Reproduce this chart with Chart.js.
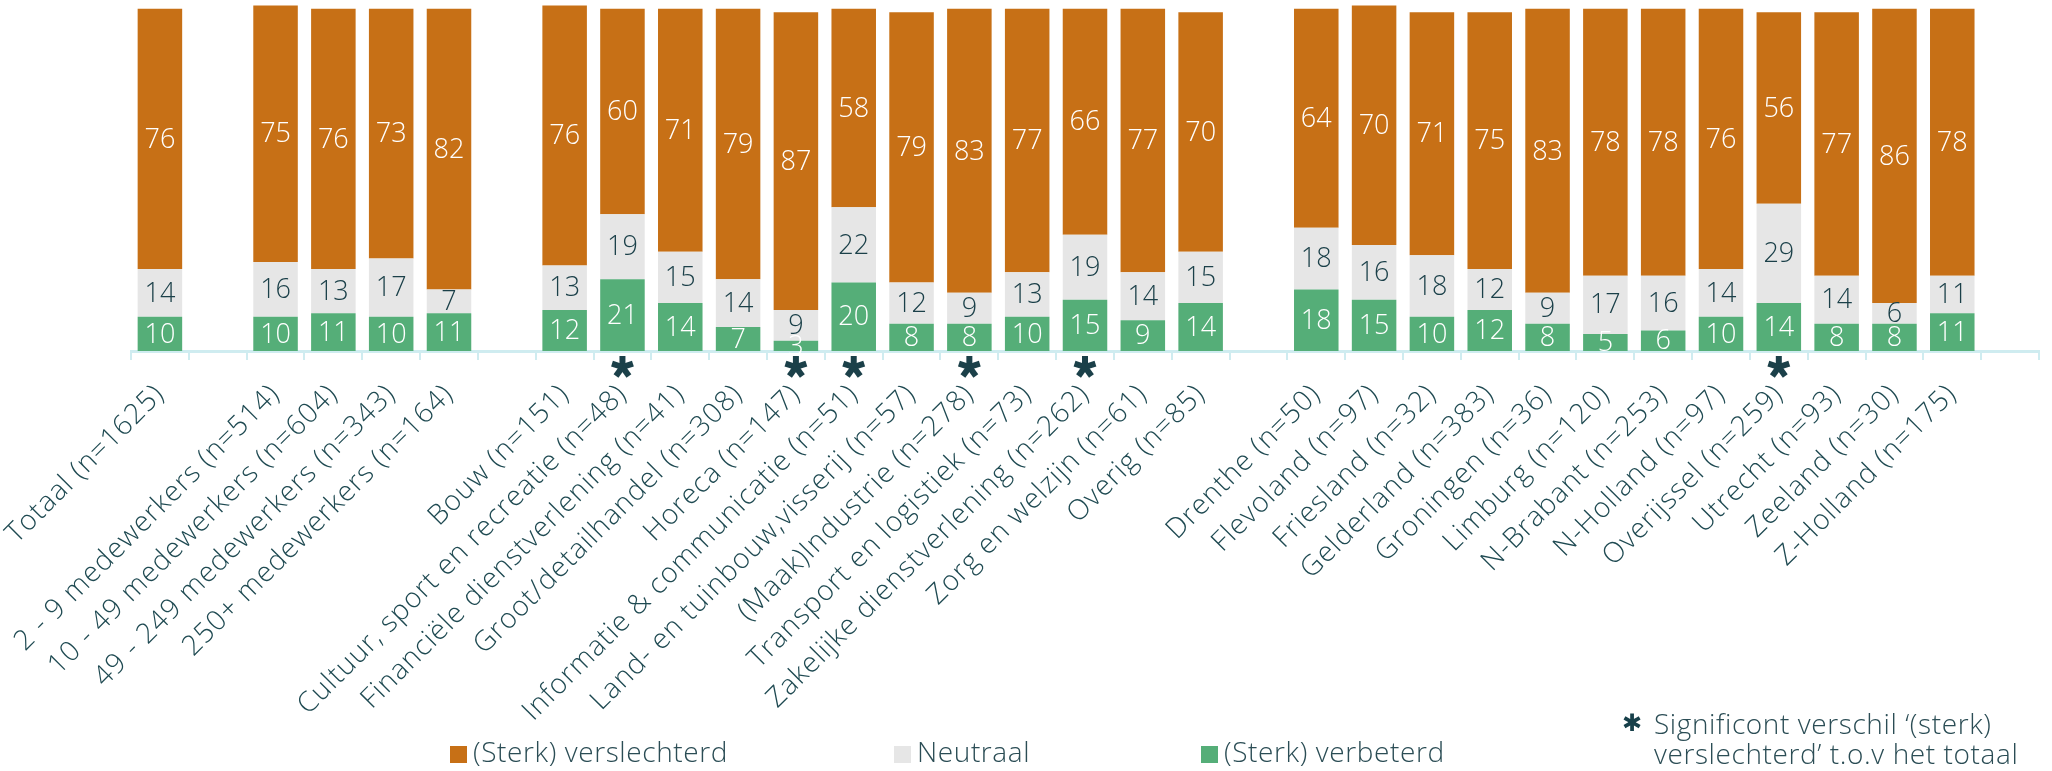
<!DOCTYPE html>
<html lang="nl">
<head>
<meta charset="utf-8">
<title>Verandering per groep</title>
<script src="https://cdn.jsdelivr.net/npm/chart.js@4.4.1/dist/chart.umd.min.js"></script>
<style>
	html, body { margin: 0; padding: 0; background: #fff; }
	#wrap { position: relative; width: 2052px; height: 771px; overflow: hidden; }
	#grafiek { position: absolute; left: 0; top: 0; }
	.legenda { position: absolute; font-family: "Open Sans"; font-weight: 300; font-size: 28px; letter-spacing: 0.6px; color: #2b4d55; white-space: nowrap; line-height: 31px; }
	.vak { display: inline-block; width: 17px; height: 17px; margin-right: 6px; vertical-align: -1px; }
	.ster { font-family: "DejaVu Sans"; font-weight: bold; color: #17404a; font-size: 24px; position: absolute; left: -32px; top: 0; }
</style>
</head>
<body>
<div id="wrap">
	<canvas id="grafiek" width="2052" height="771"></canvas>
	<div class="legenda" style="left:450px; top:736px;"><span class="vak" style="background:#c77016"></span>(Sterk) verslechterd</div>
	<div class="legenda" style="left:894px; top:736px;"><span class="vak" style="background:#e6e6e6"></span>Neutraal</div>
	<div class="legenda" style="left:1201px; top:736px;"><span class="vak" style="background:#55ae78"></span>(Sterk) verbeterd</div>
	<div class="legenda" style="left:1654px; top:708px; line-height:30px;"><span class="ster">✱</span>Significont verschil ‘(sterk)<br>verslechterd’ t.o.v het totaal</div>
</div>
<script>
// Categorieën (lege strings zijn witruimte tussen de groepen)
const categorieen = [
	"Totaal (n=1625)", "",
	"2 - 9 medewerkers (n=514)", "10 - 49 medewerkers (n=604)", "49 - 249 medewerkers (n=343)", "250+ medewerkers (n=164)", "",
	"Bouw (n=151)", "Cultuur, sport en recreatie (n=48)", "Financiële dienstverlening (n=41)", "Groot/detailhandel (n=308)",
	"Horeca (n=147)", "Informatie & communicatie (n=51)", "Land- en tuinbouw,visserij (n=57)", "(Maak)Industrie (n=278)",
	"Transport en logistiek (n=73)", "Zakelijke dienstverlening (n=262)", "Zorg en welzijn (n=61)", "Overig (n=85)", "",
	"Drenthe (n=50)", "Flevoland (n=97)", "Friesland (n=32)", "Gelderland (n=383)", "Groningen (n=36)", "Limburg (n=120)",
	"N-Brabant (n=253)", "N-Holland (n=97)", "Overijssel (n=259)", "Utrecht (n=93)", "Zeeland (n=30)", "Z-Holland (n=175)", ""
];

const verbeterd = [10, null, 10, 11, 10, 11, null, 12, 21, 14, 7, 3, 20, 8, 8, 10, 15, 9, 14, null, 18, 15, 10, 12, 8, 5, 6, 10, 14, 8, 8, 11, null];
const neutraal = [14, null, 16, 13, 17, 7, null, 13, 19, 15, 14, 9, 22, 12, 9, 13, 19, 14, 15, null, 18, 16, 18, 12, 9, 17, 16, 14, 29, 14, 6, 11, null];
const verslechterd = [76, null, 75, 76, 73, 82, null, 76, 60, 71, 79, 87, 58, 79, 83, 77, 66, 77, 70, null, 64, 70, 71, 75, 83, 78, 78, 76, 56, 77, 86, 78, null];

// Significant verschil '(sterk) verslechterd' t.o.v. het totaal
const significant = [
	"Cultuur, sport en recreatie (n=48)", "Horeca (n=147)", "Informatie & communicatie (n=51)",
	"(Maak)Industrie (n=278)", "Zakelijke dienstverlening (n=262)", "Overijssel (n=259)"
];

const ORANJE = "#c77016";
const GRIJS = "#e6e6e6";
const GROEN = "#55ae78";
const DONKER = "#1b4049";
const AS = "#cfecf0";

// Iets meer letterafstand voor de aslabels (breder lettertype in het origineel)
const letterAfstand = {
	id: "letterAfstand",
	beforeDraw(chart) {
		chart.ctx.letterSpacing = "1px";
	}
};

// Waarden midden in elk segment
const waardeLabels = {
	id: "waardeLabels",
	afterDatasetsDraw(chart) {
		let ctx = chart.ctx;
		ctx.save();
		ctx.letterSpacing = "0px";
		ctx.font = "300 27px 'Open Sans'";
		ctx.textAlign = "center";
		ctx.textBaseline = "middle";
		chart.data.datasets.forEach((ds, i) => {
			let meta = chart.getDatasetMeta(i);
			ctx.fillStyle = ds.labelKleur;
			meta.data.forEach((el, j) => {
				let v = ds.data[j];
				if (v === null) return;
				ctx.fillText(v, el.x, (el.y + el.base) / 2 + 1);
			});
		});
		ctx.restore();
	}
};

// Sterretjes onder de significante categorieën
const sterretjes = {
	id: "sterretjes",
	afterDraw(chart) {
		let ctx = chart.ctx;
		let x = chart.scales.x;
		let y = chart.chartArea.bottom + 16;
		ctx.save();
		ctx.strokeStyle = DONKER;
		ctx.lineWidth = 6;
		significant.forEach(naam => {
			let cx = x.getPixelForValue(categorieen.indexOf(naam));
			for (let k = 0; k < 5; k++) {
				let a = -Math.PI / 2 + k * 2 * Math.PI / 5;
				ctx.beginPath();
				ctx.moveTo(cx, y);
				ctx.lineTo(cx + Math.cos(a) * 11, y + Math.sin(a) * 11);
				ctx.stroke();
			}
		});
		ctx.restore();
		ctx.letterSpacing = "0px";
	}
};

new Chart(document.getElementById("grafiek"), {
	type: "bar",
	data: {
		labels: categorieen,
		datasets: [
			{ label: "(Sterk) verbeterd", data: verbeterd, backgroundColor: GROEN, labelKleur: "#ffffff" },
			{ label: "Neutraal", data: neutraal, backgroundColor: GRIJS, labelKleur: DONKER },
			{ label: "(Sterk) verslechterd", data: verslechterd, backgroundColor: ORANJE, labelKleur: "#ffffff" }
		]
	},
	options: {
		responsive: false,
		animation: false,
		devicePixelRatio: 1,
		categoryPercentage: 1,
		barPercentage: 0.77,
		layout: { padding: { left: 131, right: 13, top: 2, bottom: 0 } },
		plugins: {
			legend: { display: false },
			tooltip: { enabled: false }
		},
		scales: {
			x: {
				stacked: true,
				offset: true,
				grid: { offset: true, drawOnChartArea: false, drawTicks: true, tickLength: 9, color: AS, lineWidth: 2 },
				border: { display: true, color: AS, width: 3 },
				ticks: {
					autoSkip: false, maxRotation: 45, minRotation: 45, padding: 18,
					color: "#1f4a52",
					font: { family: "Open Sans", weight: "300", size: 28 }
				},
				afterFit(s) {
					s.height = 420;
					s.paddingLeft = 0;
					s.paddingRight = 0;
				}
			},
			y: {
				stacked: true,
				display: false,
				min: 0,
				max: 102
			}
		}
	},
	plugins: [letterAfstand, waardeLabels, sterretjes]
});
</script>
</body>
</html>
